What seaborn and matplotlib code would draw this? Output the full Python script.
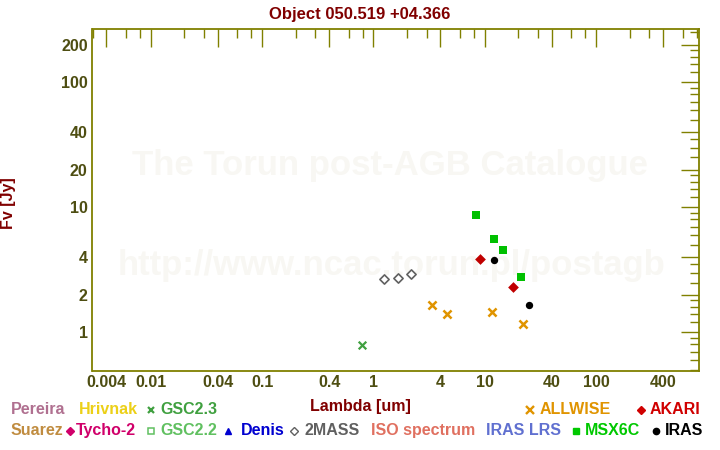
import numpy as np
import pandas as pd
import matplotlib
matplotlib.use("Agg")
import matplotlib.pyplot as plt
from matplotlib.ticker import FixedLocator, FuncFormatter, NullFormatter
import seaborn as sns

# ---------------- data ----------------
gsc23_wl = [0.79]
gsc23_fx = [0.79]
tmass_wl = [1.235, 1.662, 2.159]
tmass_fx = [2.65, 2.70, 2.91]
allwise_wl = [3.35, 4.6, 11.56, 22.08]
allwise_fx = [1.64, 1.39, 1.445, 1.16]
akari_wl = [9.0, 18.0]
akari_fx = [3.84, 2.29]
msx_wl = [8.28, 12.13, 14.65, 21.34]
msx_fx = [8.63, 5.55, 4.53, 2.75]
iras_wl = [12.0, 25.0]
iras_fx = [3.77, 1.64]

x_major = [0.004, 0.01, 0.04, 0.1, 0.4, 1, 4, 10, 40, 100, 400]
y_major = [1, 2, 4, 10, 20, 40, 100, 200]

title = "Object 050.519 +04.366"

# ---------------- style ----------------
sns.set_style("white")
plt.rcParams["font.family"] = ["Liberation Sans", "DejaVu Sans"]
plt.rcParams["font.weight"] = "bold"

OLIVE = "#808000"
LABEL = "#4e4e12"
DARKRED = "#800000"
FS = 11.5
WM = "#f8f7f3"

fig = plt.figure(figsize=(7.2, 4.5), dpi=100)
fig.patch.set_facecolor("white")
L, R, T, B = 92.5, 699.3, 29.3, 371.0
ax = fig.add_axes([L / 720, 1 - B / 450, (R - L) / 720, (B - T) / 450])
ax.set_facecolor("white")

# watermark (behind the data, inside the axes drawing order)
ax.text(390.5 / 720, 1 - 175 / 450, "The Torun post-AGB Catalogue", fontsize=25,
        fontweight="bold", color=WM, ha="center", va="baseline", zorder=0.5,
        transform=fig.transFigure, clip_on=False)
ax.text(391.5 / 720, 1 - 275 / 450, "http://www.ncac.torun.pl/postagb", fontsize=25,
        fontweight="bold", color=WM, ha="center", va="baseline", zorder=0.5,
        transform=fig.transFigure, clip_on=False)

frames = []
def add(name, wl, fx):
    frames.append(pd.DataFrame({"survey": name, "wl": wl, "flux": fx}))
add("GSC2.3", gsc23_wl, gsc23_fx)
add("2MASS", tmass_wl, tmass_fx)
add("ALLWISE", allwise_wl, allwise_fx)
add("AKARI", akari_wl, akari_fx)
add("MSX6C", msx_wl, msx_fx)
add("IRAS", iras_wl, iras_fx)
df = pd.concat(frames, ignore_index=True)

styles = {
    "GSC2.3": dict(marker="x", color="#40a040", s=30, linewidth=1.6),
    "2MASS": dict(marker="D", facecolor="white", edgecolor="#606060", s=22, linewidth=1.2),
    "ALLWISE": dict(marker="x", color="#e09400", s=34, linewidth=1.8),
    "AKARI": dict(marker="D", color="#c00000", s=30, linewidth=0),
    "MSX6C": dict(marker="s", color="#00c000", s=32, linewidth=0),
    "IRAS": dict(marker="o", color="black", s=28, linewidth=0),
}
for name, st in styles.items():
    sub = df[df["survey"] == name]
    sns.scatterplot(data=sub, x="wl", y="flux", ax=ax, legend=False, zorder=3, **st)

ax.set_xscale("log")
ax.set_yscale("log")
ax.set_xlim(0.003, 845)
ax.set_ylim(0.49, 265)

x_minor = [m * 10.0 ** e for e in range(-3, 4) for m in (2, 3, 6, 8)]
y_minor = [m * 10.0 ** e for e in range(-1, 3) for m in (1.2, 1.4, 1.6, 1.8, 2.5, 3, 3.5, 5, 6, 7, 8, 9)]
ax.xaxis.set_major_locator(FixedLocator(x_major))
ax.xaxis.set_minor_locator(FixedLocator(x_minor))
ax.yaxis.set_major_locator(FixedLocator(y_major))
ax.yaxis.set_minor_locator(FixedLocator(y_minor))
fmt = FuncFormatter(lambda v, p: "{:g}".format(v))
ax.xaxis.set_major_formatter(fmt)
ax.yaxis.set_major_formatter(fmt)
ax.xaxis.set_minor_formatter(NullFormatter())
ax.yaxis.set_minor_formatter(NullFormatter())

ax.tick_params(which="both", direction="in", top=True, right=True, color=OLIVE, width=1.0)
ax.tick_params(which="major", length=13, labelsize=FS, labelcolor=LABEL)
ax.tick_params(which="minor", length=6.5)
ax.tick_params(axis="x", which="major", pad=3)
ax.tick_params(axis="y", which="major", pad=3.5)
for lab in ax.get_xticklabels() + ax.get_yticklabels():
    lab.set_fontweight("bold")
for sp in ax.spines.values():
    sp.set_color(OLIVE)
    sp.set_linewidth(1.3)
    sp.set_zorder(4)
ax.grid(False)
ax.set_xlabel("")
ax.set_ylabel("")

# titles / labels
fig.text(360 / 720, 1 - 14 / 450, title, fontsize=12, fontweight="bold", color=DARKRED,
         ha="center", va="center")
fig.text(9 / 720, 1 - 203 / 450, "Fv [Jy]", fontsize=FS, fontweight="bold", color=DARKRED,
         ha="center", va="center", rotation=90)
fig.text(360.5 / 720, 1 - 406 / 450, "Lambda [um]", fontsize=FS, fontweight="bold",
         color=DARKRED, ha="center", va="center")

# legend block (overlay axes in pixel coordinates)
ov = fig.add_axes([0, 0, 1, 1], zorder=5)
ov.set_xlim(0, 720)
ov.set_ylim(450, 0)
ov.axis("off")
ov.patch.set_alpha(0)

def ltext(x, y, s, c):
    ov.text(x, y, s, fontsize=FS, fontweight="bold", color=c, ha="left", va="center")

def lmark(x, y, m, c, ms, fill=True, mew=1.0):
    ov.plot([x], [y], marker=m, markersize=ms, color=c,
            markerfacecolor=(c if fill else "white"), markeredgecolor=c,
            markeredgewidth=mew, linestyle="none")

r1, r2 = 409.5, 430.5
ltext(11, r1, "Pereira", "#b07090")
ltext(79, r1, "Hrivnak", "#ecd018")
lmark(151, r1, "x", "#40a040", 4.5, mew=1.6)
ltext(160.5, r1, "GSC2.3", "#40a040")
lmark(530, r1, "x", "#e09400", 5.5, mew=1.7)
ltext(539.5, r1, "ALLWISE", "#e09400")
lmark(641, r1, "D", "#d00000", 4.2)
ltext(650, r1, "AKARI", "#d00000")

ltext(10.5, r2, "Suarez", "#c08c40")
lmark(70, r2, "D", "#d0006a", 4.2)
ltext(75.5, r2, "Tycho-2", "#d0006a")
lmark(151, r2, "s", "#60c060", 4, fill=False, mew=1.1)
ltext(160.5, r2, "GSC2.2", "#60c060")
lmark(228, r2, "^", "#0000d0", 5)
ltext(240.5, r2, "Denis", "#0000d0")
lmark(294, r2, "D", "#606060", 4.0, fill=False, mew=1.0)
ltext(304.5, r2, "2MASS", "#606060")
ltext(371, r2, "ISO spectrum", "#e07060")
ltext(485.5, r2, "IRAS LRS", "#6070d0")
lmark(575.5, r2, "s", "#00c800", 4.5)
ltext(585, r2, "MSX6C", "#00c800")
lmark(655.5, r2, "o", "black", 4.5)
ltext(664.5, r2, "IRAS", "black")

fig.savefig("out.png", dpi=100, facecolor="white")
